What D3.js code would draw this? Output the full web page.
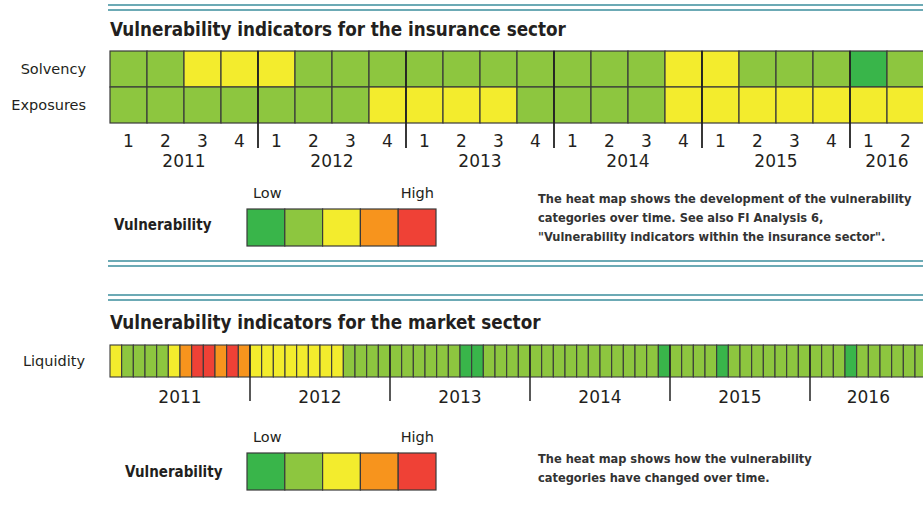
<!DOCTYPE html>
<html>
<head>
<meta charset="utf-8">
<script src="https://cdn.jsdelivr.net/npm/d3@7"></script>
<style>
  html, body { margin: 0; padding: 0; background: #fff; }
  text { font-family: "DejaVu Sans", sans-serif; fill: #231f20; }
  .cond { font-family: "DejaVu Sans Condensed", "DejaVu Sans", sans-serif; }
</style>
</head>
<body>
<div id="chart"></div>
<script>
// 1 = dark green (low) ... 5 = red (high)
const levels = [1, 2, 3, 4, 5];
const levelColors = ['#39b54a', '#8dc63f', '#f3ec2d', '#f7941d', '#ef4136'];
const years = ['2011', '2012', '2013', '2014', '2015', '2016'];
const quarterLabels = ['1', '2', '3', '4'];

const insuranceRows = ['Solvency', 'Exposures'];
const solvency  = [2,2,3,3, 3,2,2,2, 2,2,2,2, 2,2,2,3, 3,2,2,2, 1,2];
const exposures = [2,2,2,2, 2,2,2,3, 3,3,3,2, 2,2,2,3, 3,3,3,3, 3,3];

const liquidity = [
  3,2,2,2,2,3,4,5,5,4,5,4,   // 2011
  3,3,3,3,3,3,3,3,2,2,2,2,   // 2012
  2,2,2,2,2,2,1,1,2,2,2,2,   // 2013
  2,2,2,2,2,2,2,2,2,2,2,1,   // 2014
  2,2,2,2,1,2,2,2,2,2,2,2,   // 2015
  2,2,2,1,2,2,2,2,2,2        // 2016
];

const insuranceTitle = 'Vulnerability indicators for the insurance sector';
const marketTitle = 'Vulnerability indicators for the market sector';
const insuranceNote = [
  'The heat map shows the development of the vulnerability',
  'categories over time. See also FI Analysis 6,',
  '"Vulnerability indicators within the insurance sector".'
];
const marketNote = [
  'The heat map shows how the vulnerability',
  'categories have changed over time.'
];

const W = 923, H = 507;
const left = 110;
const teal = '#3b8e9c';
const stroke = '#3a3a3a';

const color = d3.scaleOrdinal().domain(levels).range(levelColors);

const svg = d3.select('#chart').append('svg')
  .attr('width', W).attr('height', H);

function doubleRule(y) {
  [y, y + 5].forEach(yy => {
    svg.append('line')
      .attr('x1', 108).attr('x2', W).attr('y1', yy).attr('y2', yy)
      .style('stroke', teal).style('stroke-width', 1.6);
  });
}

function legend(yTop, labelX, labelY) {
  const lx = d3.scaleBand().domain(levels).range([247, 436]);
  svg.append('text').attr('x', 253).attr('y', yTop - 11)
    .style('font-size', '14.5px').text('Low');
  svg.append('text').attr('x', 434).attr('y', yTop - 11)
    .style('font-size', '14.5px').style('text-anchor', 'end').text('High');
  svg.append('g').selectAll('rect').data(levels).join('rect')
    .attr('x', d => lx(d)).attr('y', yTop)
    .attr('width', lx.bandwidth()).attr('height', 37)
    .style('fill', d => color(d))
    .style('stroke', stroke).style('stroke-width', 1.2);
  svg.append('text').attr('class', 'cond').attr('x', labelX).attr('y', labelY)
    .style('font-size', '15px').style('font-weight', 'bold').text('Vulnerability');
}

function note(lines, y0) {
  lines.forEach((l, i) => {
    svg.append('text').attr('class', 'cond').attr('x', 538).attr('y', y0 + i * 19)
      .style('font-size', '12.7px').style('font-weight', 'bold')
      .style('fill', '#333').text(l);
  });
}

// ---------- Insurance sector ----------
doubleRule(5);
svg.append('text').attr('class', 'cond').attr('x', left).attr('y', 36)
  .style('font-size', '18.7px').style('font-weight', 'bold').text(insuranceTitle);

const qx = d3.scaleBand().domain(d3.range(solvency.length)).range([left, left + 37 * solvency.length]);
const ry = d3.scaleBand().domain(insuranceRows).range([51, 123]);
const insData = [solvency, exposures];

insuranceRows.forEach((row, ri) => {
  svg.append('g').selectAll('rect').data(insData[ri]).join('rect')
    .attr('x', (d, i) => qx(i)).attr('y', ry(row))
    .attr('width', qx.bandwidth()).attr('height', ry.bandwidth())
    .style('fill', d => color(d))
    .style('stroke', stroke).style('stroke-width', 1.2);
  svg.append('text').attr('x', 86).attr('y', ry(row) + ry.bandwidth() / 2 + 5)
    .style('font-size', '14.5px').style('text-anchor', 'end').text(row);
});

// quarter ticks
svg.append('g').selectAll('text').data(d3.range(solvency.length)).join('text')
  .attr('x', i => qx(i) + qx.bandwidth() / 2).attr('y', 147)
  .style('font-size', '17px').style('text-anchor', 'middle')
  .text(i => quarterLabels[i % 4]);
// year labels (centred over the quarters present) and dividers
years.forEach((yr, yi) => {
  const first = yi * 4;
  const last = Math.min(first + 4, solvency.length);
  const x0 = qx(first);
  svg.append('text').attr('x', (x0 + qx(last - 1) + qx.bandwidth()) / 2).attr('y', 167)
    .style('font-size', '17px').style('text-anchor', 'middle').text(yr);
  if (yi > 0) {
    svg.append('line').attr('x1', x0).attr('x2', x0).attr('y1', 51).attr('y2', 148)
      .style('stroke', '#222').style('stroke-width', 1.8);
  }
});

legend(209, 114, 230);
note(insuranceNote, 203);
doubleRule(261);

// ---------- Market sector ----------
doubleRule(295);
svg.append('text').attr('class', 'cond').attr('x', left).attr('y', 329)
  .style('font-size', '18.7px').style('font-weight', 'bold').text(marketTitle);

const monthW = 140 / 12;
const mx = d3.scaleBand().domain(d3.range(liquidity.length))
  .range([left, left + monthW * liquidity.length]);

svg.append('g').selectAll('rect').data(liquidity).join('rect')
  .attr('x', (d, i) => mx(i)).attr('y', 345)
  .attr('width', mx.bandwidth()).attr('height', 32)
  .style('fill', d => color(d))
  .style('stroke', stroke).style('stroke-width', 1.1);
svg.append('text').attr('x', 85).attr('y', 366)
  .style('font-size', '14.5px').style('text-anchor', 'end').text('Liquidity');

years.forEach((yr, yi) => {
  const first = yi * 12;
  const last = Math.min(first + 12, liquidity.length);
  const x0 = mx(first);
  svg.append('text').attr('x', (x0 + mx(last - 1) + mx.bandwidth()) / 2).attr('y', 403)
    .style('font-size', '17px').style('text-anchor', 'middle').text(yr);
  if (yi > 0) {
    svg.append('line').attr('x1', x0).attr('x2', x0).attr('y1', 345).attr('y2', 401)
      .style('stroke', '#222').style('stroke-width', 1.5);
  }
});

legend(453, 125, 477);
note(marketNote, 463);
</script>
</body>
</html>
